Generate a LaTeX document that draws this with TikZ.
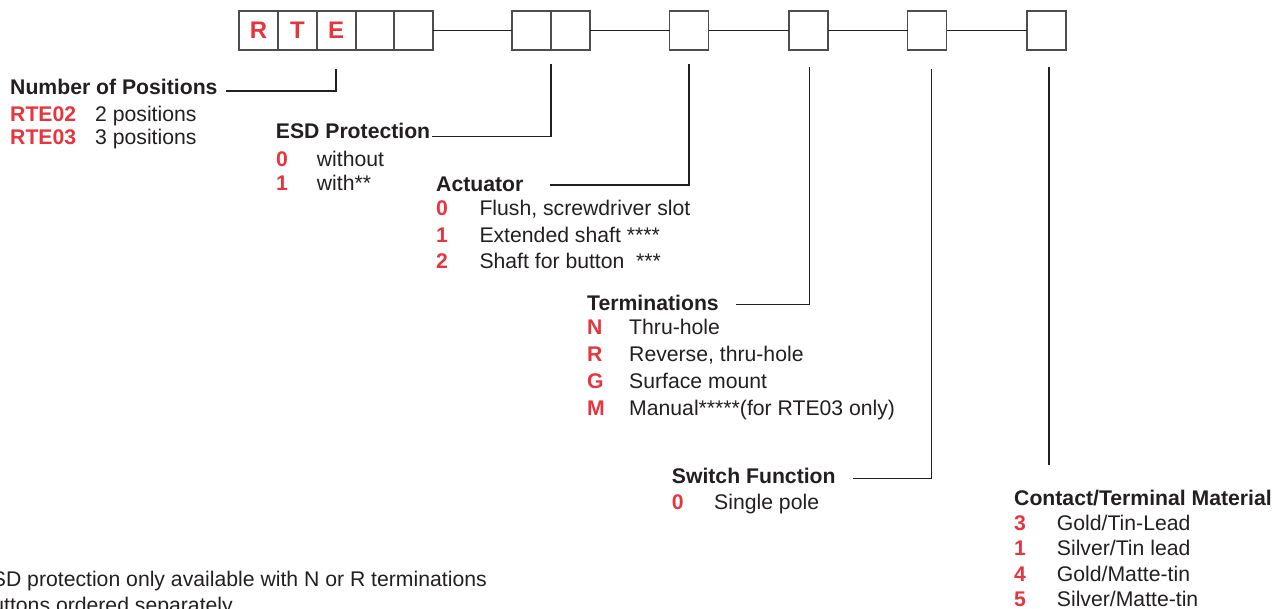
\documentclass[tikz,border=0pt]{standalone}
\usepackage{fontspec}
\setmainfont{Liberation Sans}
\definecolor{codered}{HTML}{E8343C}
\definecolor{ink}{HTML}{231F20}
\begin{document}
\begin{tikzpicture}[x=1pt,y=-1pt,
  box/.style={draw=ink!80, line width=1.6pt, minimum width=39pt, minimum height=39pt, inner sep=0pt, outer sep=0pt, anchor=north west, font=\fontsize{24}{26}\selectfont\bfseries, text=codered},
  lead/.style={draw=ink, line width=1.2pt},
  head/.style={anchor=base west, inner sep=0pt, font=\fontsize{21.2}{24}\selectfont\bfseries, text=ink},
  code/.style={anchor=base west, inner sep=0pt, font=\fontsize{21.2}{24}\selectfont\bfseries, text=codered},
  desc/.style={anchor=base west, inner sep=0pt, font=\fontsize{21.2}{24}\selectfont, text=ink}]
\useasboundingbox (0,0) rectangle (1283,609);
\clip (0,0) rectangle (1283,609);

% boxes
\node[box] (b1) at (239,11) {R};
\node[box] (b2) at (278,11) {T};
\node[box] (b3) at (316.7,11) {E};
\node[box] (b4) at (355.5,11) {};
\node[box] (b5) at (394,11) {};
\node[box] (c1) at (512,11) {};
\node[box] (c2) at (550.7,11) {};
\node[box] (d) at (669.5,11) {};
\node[box] (e) at (788.7,11) {};
\node[box] (f) at (907.5,11) {};
\node[box] (g) at (1026.7,11) {};

\draw[lead] (b5.east) -- (c1.west);
\draw[lead] (c2.east) -- (d.west);
\draw[lead] (d.east) -- (e.west);
\draw[lead] (e.east) -- (f.west);
\draw[lead] (f.east) -- (g.west);

% leader coordinates
\coordinate (nTop) at (336,69);
\coordinate (nEnd) at (226,91);
\coordinate (eTop) at (551,64);
\coordinate (eEnd) at (431.7,136.7);
\coordinate (aTop) at (689,64);
\coordinate (aEnd) at (550,185);
\coordinate (tTop) at (809.3,67);
\coordinate (tEnd) at (735.7,304.3);
\coordinate (sTop) at (931.3,69);
\coordinate (sEnd) at (852.7,478.3);
\coordinate (cTop) at (1049,67);
\coordinate (cEnd) at (1049,465);

\draw[lead] (nTop) |- (nEnd);
\draw[lead] (eTop) |- (eEnd);
\draw[lead] (aTop) |- (aEnd);
\draw[lead] (tTop) |- (tEnd);
\draw[lead] (sTop) |- (sEnd);
\draw[lead] (cTop) -- (cEnd);

% Number of positions
\node[head] (hN) at (10,95) {Number of Positions};
\node[code] (n1c) at (10,121.5) {RTE02};
\node[desc] (n1d) at (95,121.5) {2 positions};
\node[code] (n2c) at (10,145) {RTE03};
\node[desc] (n2d) at (95,145) {3 positions};

% ESD
\node[head] (hE) at (275.7,139) {ESD Protection};
\node[code] (e1c) at (276,166.5) {0};
\node[desc] (e1d) at (316.7,166.5) {without};
\node[code] (e2c) at (276,191) {1};
\node[desc] (e2d) at (316.7,191) {with**};

% Actuator
\node[head] (hA) at (436,191.7) {Actuator};
\node[code] (a1c) at (436,216) {0};
\node[desc] (a1d) at (479.3,216) {Flush, screwdriver slot};
\node[code] (a2c) at (436,242.5) {1};
\node[desc] (a2d) at (479.3,242.5) {Extended shaft ****};
\node[code] (a3c) at (436,268.5) {2};
\node[desc] (a3d) at (479.3,268.5) {Shaft for button\ \ ***};

% Terminations
\node[head] (hT) at (587,310.5) {Terminations};
\node[code] (t1c) at (587,335) {N};
\node[desc] (t1d) at (629,335) {Thru-hole};
\node[code] (t2c) at (587,361.5) {R};
\node[desc] (t2d) at (629,361.5) {Reverse, thru-hole};
\node[code] (t3c) at (587,388.5) {G};
\node[desc] (t3d) at (629,388.5) {Surface mount};
\node[code] (t4c) at (587,415.5) {M};
\node[desc] (t4d) at (629,415.5) {Manual*****(for RTE03 only)};

% Switch function
\node[head] (hS) at (671.7,483.3) {Switch Function};
\node[code] (s1c) at (671.7,509) {0};
\node[desc] (s1d) at (714,509) {Single pole};

% Contact
\node[head] (hC) at (1014,505) {Contact/Terminal Material};
\node[code] (k1c) at (1014,530) {3};
\node[desc] (k1d) at (1056.7,530) {Gold/Tin-Lead};
\node[code] (k2c) at (1014,555.7) {1};
\node[desc] (k2d) at (1056.7,555.7) {Silver/Tin lead};
\node[code] (k3c) at (1014,581.5) {4};
\node[desc] (k3d) at (1056.7,581.5) {Gold/Matte-tin};
\node[code] (k4c) at (1014,606.7) {5};
\node[desc] (k4d) at (1056.7,606.7) {Silver/Matte-tin};

% footnotes (cut by the page edge, as in the reference)
\node[desc, anchor=base east] (fn1) at (487,586.5) {ESD protection only available with N or R terminations};
\node[desc, anchor=base east] (fn2) at (233,612) {Buttons ordered separately};
\end{tikzpicture}
\end{document}
